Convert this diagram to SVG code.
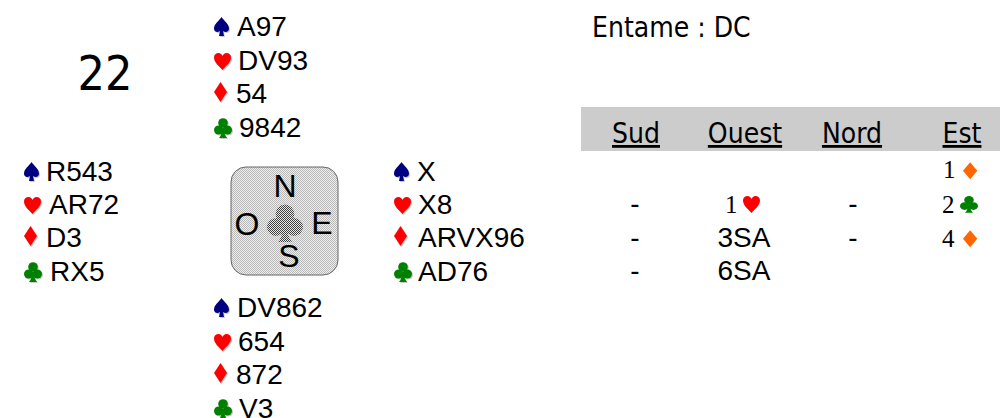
<svg xmlns="http://www.w3.org/2000/svg" xmlns:xlink="http://www.w3.org/1999/xlink" width="1000" height="418" viewBox="0 0 1000 418">
<style>
.hand{font-family:"Liberation Sans",Arial,sans-serif;font-size:28px;fill:#000}
.tah{font-family:"DejaVu Sans Condensed","DejaVu Sans",sans-serif;font-stretch:condensed;fill:#000}
.hdr{font-size:28px;text-anchor:middle;text-decoration:underline}
.bid{font-family:"Liberation Sans",Arial,sans-serif;font-size:28px;text-anchor:middle;fill:#000}
.num{font-family:"Liberation Serif","Times New Roman",serif;font-size:25px;fill:#000}
.cmp{font-family:"Liberation Sans",Arial,sans-serif;font-size:32px;text-anchor:middle;fill:#000}
.sp{fill:#000080}.he{fill:#ff0000}.di{fill:#ff0000}.cl{fill:#008000}.or{fill:#ff6600}
.sh{fill:#c8c8c8}
</style>
<defs>
<path id="spade" d="M7.5,-19 C5,-15 0,-12 0,-7.5 C0,-4.5 3,-3 6,-5 L5,0 L10,0 L9,-5 C12,-3 15,-4.5 15,-7.5 C15,-12 10,-15 7.5,-19 Z"/>
<path id="heart" d="M8.5,0 C5,-4 0,-7.5 0,-12.5 C0,-15.5 2,-17 4.5,-17 C6.5,-17 8,-15.5 8.5,-14 C9,-15.5 10.5,-17 12.5,-17 C15,-17 17,-15.5 17,-12.5 C17,-7.5 12,-4 8.5,0 Z"/>
<path id="diamond" d="M6.5,-21 L13,-11 L6.5,-1 L0,-11 Z"/>
<g id="club">
<circle cx="9" cy="-14" r="4.8"/>
<circle cx="4.6" cy="-7" r="4.6"/>
<circle cx="13.4" cy="-7" r="4.6"/>
<path d="M8,-9 Q8,-2 5,1 L13,1 Q10,-2 10,-9 Z"/>
</g>
<pattern id="dither" width="2" height="2" patternUnits="userSpaceOnUse">
<rect width="2" height="2" fill="#eeeeee"/>
<rect width="1" height="1" fill="#b8b8b8"/>
<rect x="1" y="1" width="1" height="1" fill="#b8b8b8"/>
</pattern>
<pattern id="dark" width="2" height="2" patternUnits="userSpaceOnUse">
<rect width="2" height="2" fill="#e8e8e8"/>
<rect width="1" height="1" fill="#404040"/>
<rect x="1" y="1" width="1" height="1" fill="#404040"/>
</pattern>
</defs>

<g id="board-number">
<text class="tah" x="105" y="90" font-size="48" text-anchor="middle">22</text>
</g>

<g id="lead">
<text class="tah" x="592" y="37" font-size="28">Entame : DC</text>
</g>

<g id="north">
<use href="#spade" class="sh" x="215" y="37"/><use href="#spade" class="sp" x="214" y="36"/>
<text class="hand" x="237" y="36">A97</text>
<use href="#heart" class="sh" x="215" y="71"/><use href="#heart" class="he" x="214" y="70"/>
<text class="hand" x="238" y="70">DV93</text>
<use href="#diamond" class="sh" x="215" y="104"/><use href="#diamond" class="di" x="214" y="103"/>
<text class="hand" x="236" y="103">54</text>
<use href="#club" class="sh" x="215" y="138"/><use href="#club" class="cl" x="214" y="137"/>
<text class="hand" x="239" y="137">9842</text>
</g>

<g id="west">
<use href="#spade" class="sh" x="25" y="182"/><use href="#spade" class="sp" x="24" y="181"/>
<text class="hand" x="46" y="181">R543</text>
<use href="#heart" class="sh" x="25" y="215"/><use href="#heart" class="he" x="24" y="214"/>
<text class="hand" x="49" y="214">AR72</text>
<use href="#diamond" class="sh" x="25" y="248"/><use href="#diamond" class="di" x="24" y="247"/>
<text class="hand" x="46" y="247">D3</text>
<use href="#club" class="sh" x="25" y="282"/><use href="#club" class="cl" x="24" y="281"/>
<text class="hand" x="50" y="281">RX5</text>
</g>

<g id="east">
<use href="#spade" class="sh" x="395" y="182"/><use href="#spade" class="sp" x="394" y="181"/>
<text class="hand" x="417" y="181">X</text>
<use href="#heart" class="sh" x="395" y="215"/><use href="#heart" class="he" x="394" y="214"/>
<text class="hand" x="418" y="214">X8</text>
<use href="#diamond" class="sh" x="395" y="248"/><use href="#diamond" class="di" x="394" y="247"/>
<text class="hand" x="418" y="247">ARVX96</text>
<use href="#club" class="sh" x="395" y="282"/><use href="#club" class="cl" x="394" y="281"/>
<text class="hand" x="418" y="281">AD76</text>
</g>

<g id="south">
<use href="#spade" class="sh" x="215" y="318"/><use href="#spade" class="sp" x="214" y="317"/>
<text class="hand" x="237" y="317">DV862</text>
<use href="#heart" class="sh" x="215" y="352"/><use href="#heart" class="he" x="214" y="351"/>
<text class="hand" x="238" y="351">654</text>
<use href="#diamond" class="sh" x="215" y="385"/><use href="#diamond" class="di" x="214" y="384"/>
<text class="hand" x="236" y="384">872</text>
<use href="#club" class="sh" x="215" y="419"/><use href="#club" class="cl" x="214" y="418"/>
<text class="hand" x="239" y="418">V3</text>
</g>

<g id="compass">
<rect x="231" y="167" width="107" height="108" rx="15" ry="15" fill="url(#dither)" stroke="#666" stroke-width="1"/>
<g fill="url(#dark)">
<circle cx="285" cy="214" r="9.4"/>
<circle cx="276" cy="227" r="9"/>
<circle cx="294" cy="227" r="9"/>
<path d="M283,224 Q283,236 278,242 L292,242 Q287,236 287,224 Z"/>
</g>
<text class="cmp" x="285" y="197">N</text>
<text class="cmp" x="247" y="235">O</text>
<text class="cmp" x="322" y="234">E</text>
<text class="cmp" x="289" y="267">S</text>
</g>

<g id="bidding">
<rect x="581" y="107" width="419" height="44" fill="#cccccc"/>
<text class="tah hdr" x="636" y="143">Sud</text>
<text class="tah hdr" x="745" y="143">Ouest</text>
<text class="tah hdr" x="852" y="143">Nord</text>
<text class="tah hdr" x="962" y="143">Est</text>

<text class="num" x="943" y="178">1</text><use href="#diamond" class="or" transform="translate(963,180) scale(1.1,0.85)"/>

<text class="bid" x="635" y="213">-</text>
<text class="num" x="725" y="213">1</text><use href="#heart" class="he" x="743" y="213"/>
<text class="bid" x="853" y="213">-</text>
<text class="num" x="942" y="213">2</text><use href="#club" class="cl" transform="translate(960,212) scale(1,0.85)"/>

<text class="bid" x="635" y="247">-</text>
<text class="bid" x="744" y="247">3SA</text>
<text class="bid" x="853" y="247">-</text>
<text class="num" x="942" y="247">4</text><use href="#diamond" class="or" transform="translate(963,248) scale(1.1,0.85)"/>

<text class="bid" x="635" y="280">-</text>
<text class="bid" x="744" y="280">6SA</text>
</g>
</svg>
